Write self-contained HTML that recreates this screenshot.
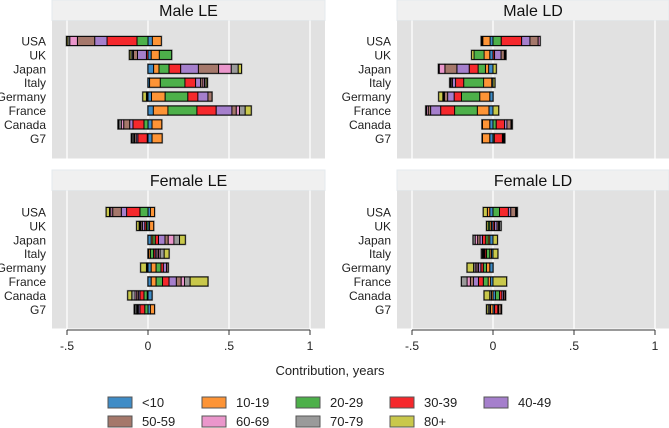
<!DOCTYPE html>
<html><head><meta charset="utf-8"><style>
body{margin:0;background:#fff;}
svg{display:block;font-family:"Liberation Sans",Arial,sans-serif;}
</style></head><body>
<svg id="c" width="669" height="428" viewBox="0 0 669 428"></svg>
<script>
const countries=["USA","UK","Japan","Italy","Germany","France","Canada","G7"];
const ageGroups=["<10","10-19","20-29","30-39","40-49","50-59","60-69","70-79","80+"];
const ageColors=["#3f8cc6","#fd9436","#4db04a","#f5282c","#a57fcc","#a5786b","#ea96cb","#9a9a9a","#c9c84b"];
const ticks=[-0.5,0,0.5,1];
const tickLabels=["-.5","0",".5","1"];
const maleLE=[
[0.027,0.055,-0.068,-0.185,-0.076,-0.107,-0.047,-0.012,-0.008],
[0.02,0.05,0.076,-0.01,-0.055,-0.025,-0.005,-0.01,-0.01],
[0.035,0.033,0.062,0.072,0.109,0.125,0.078,0.043,0.02],
[0.01,0.066,0.152,0.066,0.031,0.014,0.01,0.01,0.008],
[0.022,0.084,0.14,0.062,0.062,0.025,-0.005,-0.005,-0.022],
[0.033,0.09,0.179,0.119,0.097,0.027,0.02,0.035,0.037],
[0.025,0.06,-0.025,-0.068,-0.02,-0.037,-0.015,-0.015,-0.005],
[0.025,0.062,-0.005,-0.058,-0.01,-0.01,-0.005,-0.01,-0.005]];
const maleLD=[
[-0.018,-0.045,0.051,0.126,0.051,0.051,0.012,-0.005,-0.005],
[-0.02,-0.035,-0.062,0.01,0.04,0.02,0.005,0.005,-0.015],
[-0.027,-0.02,-0.045,-0.055,-0.076,-0.074,-0.035,-0.005,0.02],
[-0.008,-0.05,-0.123,-0.05,-0.02,-0.008,-0.004,-0.004,0.012],
[-0.02,-0.062,-0.113,-0.045,-0.04,-0.02,-0.005,-0.005,-0.025],
[-0.025,-0.072,-0.14,-0.086,-0.062,-0.015,-0.01,-0.005,0.035],
[-0.02,-0.045,0.02,0.051,0.015,0.025,0.005,0.003,-0.003],
[-0.02,-0.045,0.008,0.05,0.005,0.005,0.003,0.002,-0.002]];
const femaleLE=[
[0.015,0.025,-0.05,-0.082,-0.033,-0.053,-0.012,-0.008,-0.02],
[0.01,0.025,-0.01,-0.01,-0.015,-0.01,-0.005,-0.005,-0.015],
[0.02,0.01,0.015,0.02,0.04,0.02,0.035,0.035,0.035],
[0.005,0.01,0.02,0.01,0.01,0.01,0.01,0.025,0.03],
[0.02,0.03,0.03,0.015,0.02,0.01,-0.005,-0.005,-0.035],
[0.02,0.03,0.04,0.04,0.045,0.03,0.02,0.035,0.11],
[0.025,-0.005,-0.02,-0.025,-0.01,-0.01,-0.01,-0.02,-0.025],
[0.015,0.025,-0.02,-0.03,-0.01,-0.005,-0.005,-0.01,-0.005]];
const femaleLD=[
[-0.02,-0.015,0.04,0.055,0.015,0.03,0.005,0.005,-0.025],
[-0.01,-0.01,-0.01,0.01,0.015,0.01,0.005,0.01,-0.01],
[-0.02,-0.01,-0.015,-0.02,-0.015,-0.015,-0.015,-0.013,0.027],
[-0.01,-0.01,-0.02,-0.01,-0.005,-0.005,-0.005,-0.007,0.03],
[-0.02,-0.02,-0.02,-0.015,-0.015,-0.01,-0.01,-0.01,-0.04],
[-0.015,-0.015,-0.03,-0.03,-0.03,-0.02,-0.02,-0.035,0.084],
[0.015,-0.01,0.025,0.015,0.01,0.01,0.003,-0.01,-0.035],
[0.01,-0.015,-0.005,0.02,0.005,0.015,0.003,-0.01,-0.01]];

const svg=document.getElementById('c');
const NS='http://www.w3.org/2000/svg';
function mk(tag,attrs,parent){const e=document.createElementNS(NS,tag);for(const k in attrs)e.setAttribute(k,attrs[k]);(parent||svg).appendChild(e);return e;}
const panels=[
{title:"Male LE",data:maleLE,x0:52,x1:325,zero:148,top:0,name:"male-le-panel"},
{title:"Male LD",data:maleLD,x0:397,x1:669,zero:493,top:0,name:"male-ld-panel"},
{title:"Female LE",data:femaleLE,x0:52,x1:325,zero:148,top:170,name:"female-le-panel"},
{title:"Female LD",data:femaleLD,x0:397,x1:669,zero:493,top:170,name:"female-ld-panel"}];
const PX=162;
panels.forEach(p=>{
  const g=mk('g',{});
  
  
  const xs=v=>p.zero+v*PX;
  const strip=mk('rect',{x:p.x0,y:p.top,width:p.x1-p.x0,height:20.5,fill:'#f0f0f0',stroke:'#e4eaee','stroke-width':1},g);
  
  
  const t=mk('text',{x:(p.x0+p.x1)/2,y:p.top+16,'font-size':16,'text-anchor':'middle',fill:'#111'},g);
  t.textContent=p.title;
  
  
  const bg=mk('rect',{x:p.x0,y:p.top+20.5,width:p.x1-p.x0,height:138,fill:'#e1e1e1'},g);
  
  
  ticks.forEach(tv=>{const l=mk('line',{x1:xs(tv),x2:xs(tv),y1:p.top+20.5,y2:p.top+158.5,stroke:'#fff','stroke-width':1.3},g);
    
    });
  countries.forEach((c,i)=>{
    const cy=p.top+(p.top?42:41)+i*13.9;
    const lab=mk('text',{x:p.x0-6,y:cy+4.5,'font-size':12,'text-anchor':'end',fill:'#222'},g);
    lab.textContent=c;
    
    
    const vals=p.data[i];let pos=0,neg=0;
    let mn=0,mx=0;vals.forEach(v=>{if(v>0)mx+=v;else mn+=v;});
    const outer=mk('rect',{x:xs(mn)-1,y:cy-5.5,width:(mx-mn)*PX+2,height:11,fill:'#8a8a8a'},g);
    
    
    vals.forEach((v,k)=>{
      let a,b;
      if(v>=0){a=pos;b=pos+v;pos=b;}else{b=neg;a=neg+v;neg=a;}
      const r=mk('rect',{x:xs(a),y:cy-4.5,width:Math.max(0.1,(b-a)*PX),height:9,fill:ageColors[k],stroke:'#000','stroke-width':0.9},g);
      
      
    });
  });
  if(p.top){
    const ax=mk('line',{x1:xs(-0.5),x2:xs(1),y1:330,y2:330,stroke:'#333','stroke-width':1},g);
    
    
    ticks.forEach((tv,k)=>{
      const tk=mk('line',{x1:xs(tv),x2:xs(tv),y1:330,y2:335,stroke:'#333','stroke-width':1},g);
      
      
      const tl=mk('text',{x:xs(tv),y:350,'font-size':12,'text-anchor':'middle',fill:'#222'},g);
      tl.textContent=tickLabels[k];
      
      
    });
  }
});
const at=mk('text',{x:330,y:375,'font-size':13,'text-anchor':'middle',fill:'#222'});
at.textContent="Contribution, years";


ageGroups.forEach((a,k)=>{
  const col=k%5,row=Math.floor(k/5);
  const x=108+col*94,y=397+row*19;
  const g=mk('g',{});
  
  
  mk('rect',{x:x,y:y,width:24,height:11,fill:ageColors[k],stroke:'#555','stroke-width':1},g);
  const t=mk('text',{x:x+34,y:y+10,'font-size':13,fill:'#222'},g);
  t.textContent=a;
});
</script>
</body></html>
